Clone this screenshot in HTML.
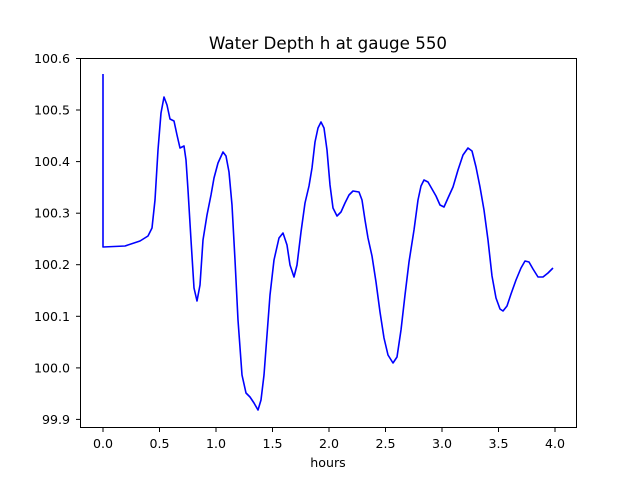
<!DOCTYPE html>
<html><head><meta charset="utf-8"><style>body{margin:0;background:#fff}svg{display:block;font-family:"DejaVu Sans","Liberation Sans",sans-serif}</style></head>
<body>
<svg width="640" height="480" xmlns="http://www.w3.org/2000/svg">
<rect width="640" height="480" fill="#fff"/>
<polyline fill="none" stroke="#0000ff" stroke-width="1.6" stroke-linejoin="round" points="103,74 103,247 125,246 140,241 148,236 152,228 155,200 158,150 161,113 164,97 167,105 170,119 174,121 177,135 180,148 184,146 186,160 188,190 191,240 194,288 197,301 200,285 203,240 207,215 211,195 214,178 218,163 223,152 226,156 229,172 232,205 235,260 238,320 242,375 246,393 250,397 254,403 258,410 261,400 264,375 267,335 270,295 274,260 279,238 283,233 287,245 290,265 294,277 297,265 301,232 305,203 309,186 312,168 315,142 318,128 321,122 324,128 327,150 330,185 333,208 337,216 341,212 345,203 349,195 353,191 359,192 362,200 365,220 368,238 372,256 376,282 380,312 384,338 388,355 393,363 397,357 401,330 405,295 409,262 414,230 418,200 421,186 424,180 428,182 432,189 436,196 440,205 444,207 448,198 453,187 458,170 463,155 468,148 472,151 476,167 480,187 484,210 488,240 492,276 496,298 500,309 503,311 507,306 511,294 516,280 521,268 525,261 529,262 533,269 538,277 543,277 548,273 553,268"/>
<rect x="80.5" y="58.5" width="496" height="369" fill="none" stroke="#000" stroke-width="1"/>
<g stroke="#000" stroke-width="1">
<line x1="103" y1="428" x2="103" y2="432"/><line x1="159.5" y1="428" x2="159.5" y2="432"/><line x1="216" y1="428" x2="216" y2="432"/><line x1="272.5" y1="428" x2="272.5" y2="432"/><line x1="329" y1="428" x2="329" y2="432"/><line x1="385.5" y1="428" x2="385.5" y2="432"/><line x1="442" y1="428" x2="442" y2="432"/><line x1="498.5" y1="428" x2="498.5" y2="432"/><line x1="555" y1="428" x2="555" y2="432"/>
<line x1="76" y1="58.5" x2="80" y2="58.5"/><line x1="76" y1="110" x2="80" y2="110"/><line x1="76" y1="161.6" x2="80" y2="161.6"/><line x1="76" y1="213.2" x2="80" y2="213.2"/><line x1="76" y1="264.7" x2="80" y2="264.7"/><line x1="76" y1="316.3" x2="80" y2="316.3"/><line x1="76" y1="367.9" x2="80" y2="367.9"/><line x1="76" y1="419.4" x2="80" y2="419.4"/>
</g>
<g font-size="12.6" text-anchor="middle" fill="#000">
<text x="103" y="448">0.0</text><text x="159.5" y="448">0.5</text><text x="216" y="448">1.0</text><text x="272.5" y="448">1.5</text><text x="329" y="448">2.0</text><text x="385.5" y="448">2.5</text><text x="442" y="448">3.0</text><text x="498.5" y="448">3.5</text><text x="555" y="448">4.0</text>
<text x="328" y="467">hours</text>
</g>
<g font-size="12.6" text-anchor="end" fill="#000">
<text x="70" y="63">100.6</text><text x="70" y="114.5">100.5</text><text x="70" y="166">100.4</text><text x="70" y="217.7">100.3</text><text x="70" y="269.2">100.2</text><text x="70" y="320.8">100.1</text><text x="70" y="372.4">100.0</text><text x="70" y="424">99.9</text>
</g>
<text x="328" y="49" font-size="16.7" text-anchor="middle">Water Depth h at gauge 550</text>
</svg>
</body></html>
